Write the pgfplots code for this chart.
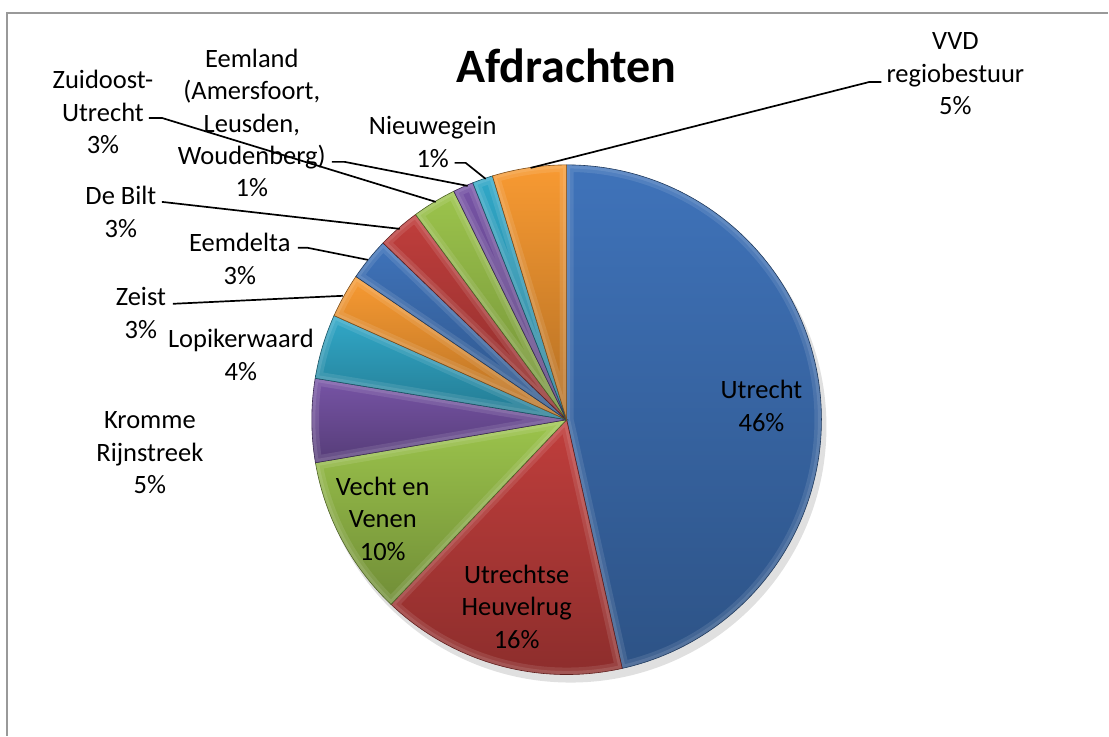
\documentclass[border=0pt]{standalone}
\usepackage{fontspec}
\setmainfont{Carlito}
\usepackage{pgfplots}
\usepackage{pgfplotstable}
\pgfplotsset{compat=1.18}

\definecolor{cBlue}{HTML}{3F73BA}
\definecolor{cRed}{HTML}{C03E3C}
\definecolor{cGreen}{HTML}{9CC44C}
\definecolor{cPurple}{HTML}{7754A6}
\definecolor{cAqua}{HTML}{31A8C8}
\definecolor{cOrange}{HTML}{F89A32}

\tikzset{lbl/.style={align=center, font=\fontsize{26.5}{32.5}\selectfont, inner sep=0pt}}

% share of each slice (percent), clockwise from 12 o'clock
\pgfplotstableread{
value color
46.5 cBlue
15.6 cRed
10.2 cGreen
5.3 cPurple
4.1 cAqua
2.8 cOrange
2.7 cBlue
2.7 cRed
2.8 cGreen
1.3 cPurple
1.3 cAqua
4.7 cOrange
}\piedata

\begin{document}
\begin{tikzpicture}
\begin{axis}[
  scale only axis, width=1109pt, height=736pt,
  xmin=0, xmax=1109, ymin=0, ymax=736, y dir=reverse,
  hide axis, clip=false,
]
% canvas extent
\path (axis cs:0,0) rectangle (axis cs:1109,736);
% frame
\draw[black!40, line width=1.5pt] (axis cs:7,736) -- (axis cs:7,13) -- (axis cs:1109,13);
% shadow
\fill[black, opacity=0.12] (axis cs:571,427) circle[radius=256pt];
% slices
\pgfmathsetmacro{\cumang}{90}
\pgfplotsforeachungrouped \i in {0,...,11}{%
  \pgfplotstablegetelem{\i}{value}\of\piedata \let\sliceval\pgfplotsretval
  \pgfplotstablegetelem{\i}{color}\of\piedata \let\slicecol\pgfplotsretval
  \pgfmathsetmacro{\endang}{\cumang-3.6*\sliceval}%
  \edef\cmd{%
    \noexpand\path[top color=\slicecol, bottom color=\slicecol!72!black] (axis cs:567,420) -- ++(\cumang:255pt) arc[start angle=\cumang, end angle=\endang, radius=255pt] -- cycle;
    \noexpand\begin{scope}
    \noexpand\clip (axis cs:567,420) -- ++(\cumang:255pt) arc[start angle=\cumang, end angle=\endang, radius=255pt] -- cycle;
    \noexpand\draw[white, opacity=0.10, line width=14pt, line join=round] (axis cs:567,420) -- ++(\cumang:255pt) arc[start angle=\cumang, end angle=\endang, radius=255pt] -- cycle;
    \noexpand\draw[white, opacity=0.10, line width=7pt, line join=round] (axis cs:567,420) -- ++(\cumang:255pt) arc[start angle=\cumang, end angle=\endang, radius=255pt] -- cycle;
    \noexpand\end{scope}
    \noexpand\draw[\slicecol!50!black, line width=0.6pt] (axis cs:567,420) -- ++(\cumang:255pt) arc[start angle=\cumang, end angle=\endang, radius=255pt] -- cycle;
  }%
  \cmd
  \global\let\cumang\endang
}
% leader lines
\addplot[black, line width=1.7pt] coordinates {(882,82) (870,82) (531,168)};
\addplot[black, line width=1.7pt] coordinates {(455,163) (466,163) (486,179)};
\addplot[black, line width=1.7pt] coordinates {(332,162) (345,162) (468,186)};
\addplot[black, line width=1.7pt] coordinates {(149,118) (162,118) (436,202)};
\addplot[black, line width=1.7pt] coordinates {(162,202) (400,229)};
\addplot[black, line width=1.7pt] coordinates {(298,248) (308,248) (368,260)};
\addplot[black, line width=1.7pt] coordinates {(173,304) (343,296)};
% title
\node[font=\fontsize{48}{56}\selectfont\bfseries, inner sep=0pt] at (axis cs:567,66) {Afdrachten};
% labels
\node[lbl] at (axis cs:762,406) {Utrecht\\46\%};
\node[lbl] at (axis cs:517,607) {Utrechtse\\Heuvelrug\\16\%};
\node[lbl] at (axis cs:383,519) {Vecht en\\Venen\\10\%};
\node[lbl] at (axis cs:150,453) {Kromme\\Rijnstreek\\5\%};
\node[lbl] at (axis cs:241,355) {Lopikerwaard\\4\%};
\node[lbl] at (axis cs:141,313) {Zeist\\3\%};
\node[lbl] at (axis cs:240,259) {Eemdelta\\3\%};
\node[lbl] at (axis cs:121,212) {De Bilt\\3\%};
\node[lbl] at (axis cs:103,112) {Zuidoost-\\Utrecht\\3\%};
\node[lbl] at (axis cs:252,123) {Eemland\\(Amersfoort,\\Leusden,\\Woudenberg)\\1\%};
\node[lbl] at (axis cs:433,142) {Nieuwegein\\1\%};
\node[lbl] at (axis cs:956,74) {VVD\\regiobestuur\\5\%};
\end{axis}
\end{tikzpicture}
\end{document}
